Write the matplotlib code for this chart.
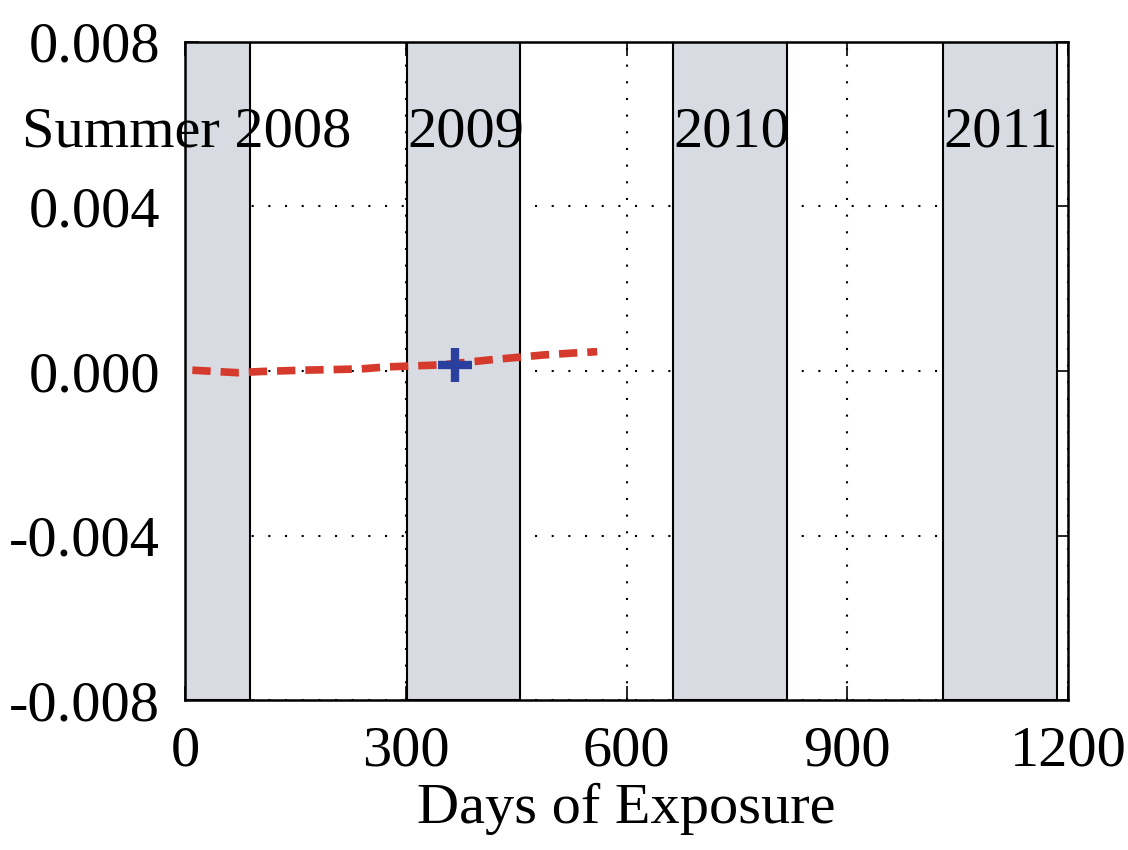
import matplotlib
matplotlib.use("Agg")
import matplotlib.pyplot as plt

# Data
days = [10, 71, 106, 160, 238, 274, 349, 414, 487, 530, 560]
values = [0.00002, -0.00004, -0.00001, 0.00002, 0.00005, 0.0001, 0.00015, 0.00027, 0.00039, 0.00044, 0.00047]
marker_day = [367]
marker_val = [0.00015]
summer_starts = [0, 302, 663, 1030]
summer_ends = [88, 455, 818, 1185]
summer_labels = ["Summer 2008", "2009", "2010", "2011"]
xticks = [0, 300, 600, 900, 1200]
yticks = [-0.008, -0.004, 0.0, 0.004, 0.008]
ytick_labels = ["-0.008", "-0.004", "0.000", "0.004", "0.008"]

plt.rcParams['font.family'] = ['Liberation Serif', 'DejaVu Serif']

fig = plt.figure(figsize=(11.28, 8.5), dpi=100)
ax = fig.add_axes([0.164, 0.176, 0.783, 0.775])

for s, e in zip(summer_starts, summer_ends):
    ax.axvspan(s, e, facecolor='#d8dce2', edgecolor='black', linewidth=1.5, zorder=2)

ax.plot(days, values, color='#d63a2c', linestyle=(0, (2.4, 1.3)), linewidth=5.5, zorder=4)
ax.plot(marker_day, marker_val, marker='+', color='#2b3f9e', markersize=24, markeredgewidth=6, linestyle='none', zorder=5)

ax.set_xlim(0, 1200)
ax.set_ylim(-0.008, 0.008)
ax.set_xticks(xticks)
ax.set_yticks(yticks)
ax.set_yticklabels(ytick_labels)
ax.grid(True, linestyle=(0, (1, 7)), color='black', linewidth=1.5, zorder=1)
ax.set_axisbelow(True)
ax.tick_params(direction='in', top=True, right=True, length=10, width=1.2, labelsize=42, pad=18)
for sp in ax.spines.values():
    sp.set_linewidth(1.8)
    sp.set_zorder(6)

label_x = [-221, summer_starts[1], summer_starts[2], summer_starts[3]]
for lx, lab in zip(label_x, summer_labels):
    ax.text(lx, 0.0058, lab, fontsize=42, va='center', ha='left', zorder=7, clip_on=False)

ax.set_xlabel("Days of Exposure", fontsize=42, labelpad=4)

fig.savefig("out.png", dpi=100)
